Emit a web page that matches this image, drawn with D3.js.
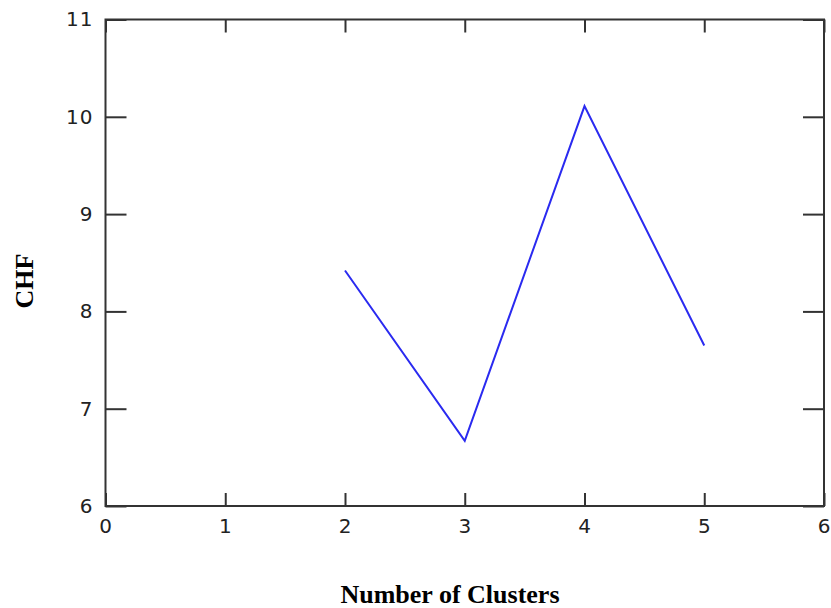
<!DOCTYPE html>
<meta charset="utf-8">
<style>
    body { margin: 0; background: #fff; }
    .tick text { font-family: "DejaVu Sans", sans-serif; font-size: 20px; fill: #222; letter-spacing: 1px; }
    .axis path, .axis line { stroke: #333; stroke-width: 2px; }
    .title { font-family: "Liberation Serif", "Times New Roman", serif; font-weight: bold; font-size: 26px; fill: #000; }
</style>
<body>
<svg width="831" height="608"></svg>
<script src="https://d3js.org/d3.v7.min.js"></script>
<script>
    // data
    var clusters = [2, 3, 4, 5];
    var chf = [8.42, 6.67, 10.11, 7.65];
    var xTicks = [0, 1, 2, 3, 4, 5, 6];
    var yTicks = [6, 7, 8, 9, 10, 11];

    var svg = d3.select("svg"),
        margin = { top: 19.5, right: 7, bottom: 102, left: 105.5 },
        width = +svg.attr("width") - margin.left - margin.right,
        height = +svg.attr("height") - margin.top - margin.bottom;

    var x = d3.scaleLinear().domain([0, 6]).range([0, width]),
        y = d3.scaleLinear().domain([6, 11]).range([height, 0]);

    var fmt = d3.format("d");

    var g = svg.append("g")
        .attr("transform", "translate(" + margin.left + "," + margin.top + ")");

    // bottom axis with inward ticks
    g.append("g")
        .attr("class", "axis")
        .attr("transform", "translate(0," + height + ")")
        .call(d3.axisBottom(x).tickValues(xTicks).tickFormat(fmt).tickSizeInner(-13).tickSizeOuter(0).tickPadding(8))
        .selectAll("text").attr("dy", "0.95em");

    g.append("g")
        .attr("class", "axis")
        .call(d3.axisTop(x).tickValues(xTicks).tickSizeInner(-13).tickSizeOuter(0).tickFormat(""));

    g.append("g")
        .attr("class", "axis")
        .call(d3.axisLeft(y).tickValues(yTicks).tickFormat(fmt).tickSizeInner(-21).tickSizeOuter(0).tickPadding(12));

    g.append("g")
        .attr("class", "axis")
        .attr("transform", "translate(" + width + ",0)")
        .call(d3.axisRight(y).tickValues(yTicks).tickSizeInner(-21).tickSizeOuter(0).tickFormat(""));

    g.selectAll(".axis .domain").remove();

    g.append("rect")
        .attr("width", width)
        .attr("height", height)
        .attr("fill", "none")
        .attr("stroke", "#333")
        .attr("stroke-width", 2);

    var line = d3.line()
        .x(function (d, i) { return x(clusters[i]); })
        .y(function (d) { return y(d); });

    g.append("path")
        .datum(chf)
        .attr("fill", "none")
        .attr("stroke", "#2a2af0")
        .attr("stroke-width", 2)
        .attr("d", line);

    svg.append("text")
        .attr("class", "title")
        .attr("text-anchor", "middle")
        .attr("x", 450)
        .attr("y", 603)
        .text("Number of Clusters");

    svg.append("text")
        .attr("class", "title")
        .attr("text-anchor", "middle")
        .attr("transform", "translate(33,281) rotate(-90)")
        .text("CHF");
</script>
</body>
